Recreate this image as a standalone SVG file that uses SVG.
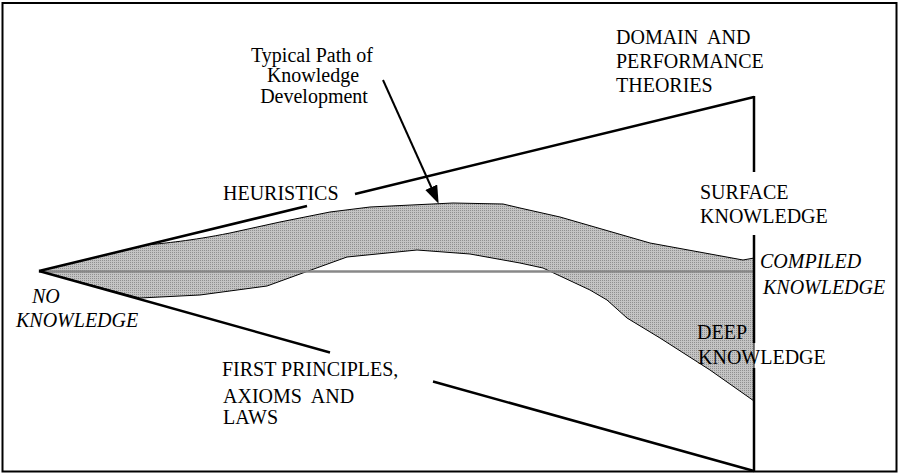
<svg xmlns="http://www.w3.org/2000/svg" width="900" height="476" viewBox="0 0 900 476">
  <style>
    .axis { stroke: #000; stroke-width: 2.5; fill: none; }
    .mid { stroke: #888; stroke-width: 2.5; fill: none; }
    .arrow { stroke: #000; stroke-width: 2; fill: none; }
    .band { stroke: #000; stroke-width: 1; fill: url(#dots); }
  </style>
  <defs>
    <pattern id="dots" width="2" height="2" patternUnits="userSpaceOnUse">
      <rect width="2" height="2" fill="#c4c4c4"/>
      <rect width="1" height="1" fill="#909090"/>
    </pattern>
    <marker id="head" markerUnits="userSpaceOnUse" markerWidth="18" markerHeight="14" refX="14" refY="6.5" orient="auto">
      <path d="M0,0 L18,6.5 L0,13 z" fill="#000"/>
    </marker>
  </defs>

  <rect x="2.5" y="3" width="894" height="468.5" fill="#fff" stroke="#000" stroke-width="2"/>

  <g id="band">
    <path class="band" d="M39,271 L147,245 C165,243 190,241 230,233 L280,222 L330,212 L370,207 L453,203 L503,204 L520,208 L560,217 L650,243 L743,260 L754,258 L754,401 L710,370 L660,338 L627,318 L607,300 L590,290 L543,268 L520,263 L470,254 L417,250 L347,257 L300,274 L267,286 L200,295 L140,298 Z"/>
  </g>

  <g id="connectors">
    <line class="mid" x1="39" y1="271.5" x2="754" y2="271.5"/>
    <line class="axis" x1="39" y1="271" x2="307" y2="206"/>
    <line class="axis" x1="355" y1="194" x2="754" y2="97"/>
    <line class="axis" x1="39" y1="271" x2="330" y2="352.5"/>
    <line class="axis" x1="433" y1="381.5" x2="754" y2="471"/>
    <line class="axis" x1="754" y1="96" x2="754" y2="172"/>
    <line class="axis" x1="754" y1="235" x2="754" y2="343"/>
    <line class="axis" x1="754" y1="368" x2="754" y2="471"/>
    <line class="arrow" x1="383" y1="80" x2="437" y2="200" marker-end="url(#head)"/>
  </g>

  <g font-family="Liberation Serif, Times New Roman, serif" font-size="20" fill="#000">
  <g id="typical-path" text-anchor="middle">
    <text x="312" y="62">Typical Path of</text>
    <text x="313" y="82">Knowledge</text>
    <text x="314" y="103">Development</text>
  </g>
  <g id="domain-theories">
    <text x="616" y="44">DOMAIN&#160; AND</text>
    <text x="616" y="68">PERFORMANCE</text>
    <text x="616" y="92">THEORIES</text>
  </g>
  <g id="heuristics">
    <text x="223" y="200">HEURISTICS</text>
  </g>
  <g id="surface-knowledge">
    <text x="700" y="199">SURFACE</text>
    <text x="700" y="223">KNOWLEDGE</text>
  </g>
  <g id="no-knowledge" font-style="italic">
    <text x="32" y="303">NO</text>
    <text x="16" y="327">KNOWLEDGE</text>
  </g>
  <g id="first-principles">
    <text x="222" y="376">FIRST PRINCIPLES,</text>
    <text x="223" y="403">AXIOMS&#160; AND</text>
    <text x="223" y="424">LAWS</text>
  </g>
  <g id="compiled-knowledge" font-style="italic">
    <text x="760" y="268">COMPILED</text>
    <text x="763" y="294">KNOWLEDGE</text>
  </g>
  <g id="deep-knowledge">
    <text x="697" y="339">DEEP</text>
    <text x="698" y="364">KNOWLEDGE</text>
  </g>
  </g>
</svg>
